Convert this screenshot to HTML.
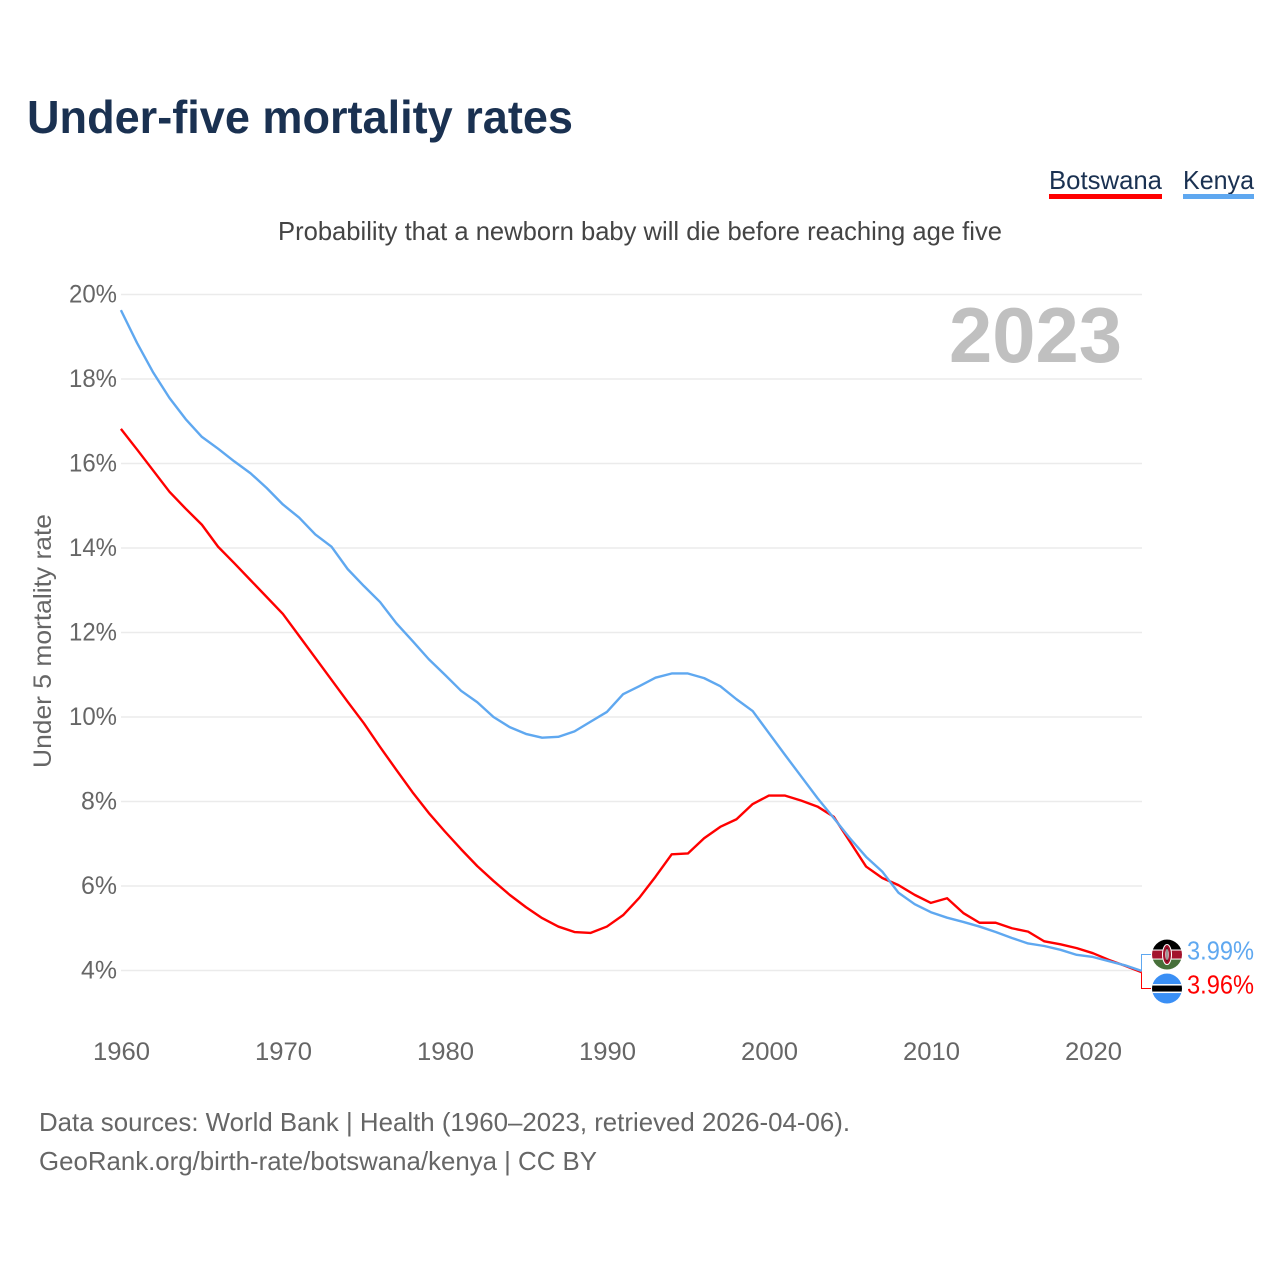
<!DOCTYPE html>
<html lang="en">
<head>
<meta charset="utf-8">
<title>Under-five mortality rates</title>
<style>
html,body{margin:0;padding:0;background:#fff;}
svg{display:block;font-family:"Liberation Sans",sans-serif;}
</style>
</head>
<body>
<svg id="chart" xmlns="http://www.w3.org/2000/svg" width="1280" height="1280" viewBox="0 0 1280 1280">
<defs>
<clipPath id="clip-top"><circle cx="0" cy="0" r="15"/></clipPath>
</defs>
<rect width="1280" height="1280" fill="#fff"/>
<text x="27" y="133" font-size="46" font-weight="700" fill="#1a3151" textLength="546" lengthAdjust="spacingAndGlyphs">Under-five mortality rates</text>
<g>
<text x="1049" y="189" font-size="26" fill="#1a3151" textLength="113" lengthAdjust="spacingAndGlyphs">Botswana</text>
<rect x="1049" y="194" width="113" height="5" fill="#ff0000"/>
</g>
<g>
<text x="1183" y="189" font-size="26" fill="#1a3151" textLength="71" lengthAdjust="spacingAndGlyphs">Kenya</text>
<rect x="1183" y="194" width="71" height="5" fill="#5fa8f0"/>
</g>
<text x="278" y="240" font-size="26" fill="#444" textLength="724" lengthAdjust="spacingAndGlyphs">Probability that a newborn baby will die before reaching age five</text>
<text transform="translate(51,768) rotate(-90)" font-size="25" fill="#666" textLength="254" lengthAdjust="spacingAndGlyphs">Under 5 mortality rate</text>
<g id="grid"></g>
<g id="y-ticks"></g>
<g id="x-ticks"></g>
<text x="949" y="362" font-size="78" font-weight="700" fill="#c0c0c0" textLength="173" lengthAdjust="spacingAndGlyphs">2023</text>
<g id="series"></g>
<g id="end-labels"></g>
<text x="39" y="1131" font-size="26" fill="#666" textLength="811" lengthAdjust="spacingAndGlyphs">Data sources: World Bank | Health (1960–2023, retrieved 2026-04-06).</text>
<text x="39" y="1170" font-size="26" fill="#666" textLength="558" lengthAdjust="spacingAndGlyphs">GeoRank.org/birth-rate/botswana/kenya | CC BY</text>
</svg>
<script>
const firstYear = 1960;
const yTickValues = [4, 6, 8, 10, 12, 14, 16, 18, 20];
const xTickYears = [1960, 1970, 1980, 1990, 2000, 2010, 2020];
const botswanaValues = [16.82,16.33,15.83,15.33,14.93,14.55,14.03,13.64,13.24,12.84,12.44,11.92,11.4,10.88,10.36,9.85,9.29,8.75,8.22,7.73,7.29,6.87,6.47,6.12,5.79,5.5,5.24,5.04,4.91,4.89,5.04,5.31,5.72,6.22,6.75,6.77,7.13,7.4,7.58,7.94,8.14,8.14,8.02,7.88,7.64,7.05,6.46,6.19,6.02,5.79,5.6,5.71,5.36,5.13,5.13,5.0,4.92,4.69,4.62,4.53,4.41,4.25,4.11,3.96];
const kenyaValues = [19.63,18.85,18.15,17.55,17.05,16.63,16.35,16.05,15.77,15.42,15.03,14.72,14.32,14.03,13.5,13.1,12.72,12.22,11.8,11.37,11.0,10.62,10.35,10.0,9.76,9.6,9.51,9.53,9.66,9.89,10.12,10.54,10.73,10.93,11.03,11.03,10.92,10.73,10.42,10.14,9.62,9.1,8.59,8.08,7.61,7.13,6.69,6.34,5.84,5.57,5.38,5.25,5.15,5.04,4.91,4.77,4.64,4.58,4.49,4.37,4.32,4.22,4.12,3.99];

const NS = 'http://www.w3.org/2000/svg';
const xScale = function (year) { return 120.9 + (year - 1960) * 16.2; };
const yScale = function (value) { return 970.5 - (value - 4) * 42.25; };
const RED = '#ff0000';
const BLUE = '#5fa8f0';

function make(tag, attrs, parent) {
  const el = document.createElementNS(NS, tag);
  for (const k in attrs) el.setAttribute(k, attrs[k]);
  parent.appendChild(el);
  return el;
}

const gridGroup = document.getElementById('grid');
const yTickGroup = document.getElementById('y-ticks');
yTickValues.forEach(function (v) {
  const line = make('line', {x1: 121, x2: 1142, y1: yScale(v), y2: yScale(v), stroke: '#ebebeb', 'stroke-width': 1.5}, gridGroup);
  
  
  const label = make('text', {x: 117, y: yScale(v) + 8, 'text-anchor': 'end', 'font-size': 25, fill: '#666', textLength: v < 10 ? 36 : 48, lengthAdjust: 'spacingAndGlyphs'}, yTickGroup);
  
  
  label.textContent = v + '%';
});

const xTickGroup = document.getElementById('x-ticks');
xTickYears.forEach(function (year) {
  const label = make('text', {x: xScale(year) - 27.9, y: 1060, 'font-size': 25, fill: '#666', textLength: 57, lengthAdjust: 'spacingAndGlyphs'}, xTickGroup);
  
  
  label.textContent = String(year);
});

function linePoints(values) {
  return values.map(function (v, i) {
    return xScale(firstYear + i).toFixed(2) + ',' + yScale(v).toFixed(2);
  }).join(' ');
}

const seriesGroup = document.getElementById('series');
const botswanaLine = make('polyline', {points: linePoints(botswanaValues), fill: 'none', stroke: RED, 'stroke-width': 2.4, 'stroke-linejoin': 'round'}, seriesGroup);


const kenyaLine = make('polyline', {points: linePoints(kenyaValues), fill: 'none', stroke: BLUE, 'stroke-width': 2.4, 'stroke-linejoin': 'round'}, seriesGroup);



const endGroup = document.getElementById('end-labels');
const endX = xScale(firstYear + kenyaValues.length - 1);
const kenyaEnd = kenyaValues[kenyaValues.length - 1];
const botswanaEnd = botswanaValues[botswanaValues.length - 1];
const midY = (yScale(kenyaEnd) + yScale(botswanaEnd)) / 2;
const kenyaY = midY - 17;
const botswanaY = midY + 17;

const botswanaLeader = make('polyline', {points: [endX, yScale(botswanaEnd), endX, botswanaY, 1151, botswanaY].join(' '), fill: 'none', stroke: RED, 'stroke-width': 1}, endGroup);


const kenyaLeader = make('polyline', {points: [endX, yScale(kenyaEnd), endX, kenyaY, 1151, kenyaY].join(' '), fill: 'none', stroke: BLUE, 'stroke-width': 1}, endGroup);



const kenyaFlag = make('g', {transform: 'translate(1167,' + kenyaY + ')', 'clip-path': 'url(#clip-top)'}, endGroup);


make('rect', {x: -15, y: -15, width: 30, height: 10, fill: '#000'}, kenyaFlag);
make('rect', {x: -15, y: -5, width: 30, height: 10, fill: '#fff'}, kenyaFlag);
make('rect', {x: -15, y: -4, width: 30, height: 8, fill: '#a3132d'}, kenyaFlag);
make('rect', {x: -15, y: 5, width: 30, height: 10, fill: '#47703a'}, kenyaFlag);
make('ellipse', {cx: 0, cy: 0, rx: 4.5, ry: 10, fill: '#a3132d', stroke: '#fff', 'stroke-width': 1}, kenyaFlag);
make('ellipse', {cx: 0, cy: 0, rx: 1.6, ry: 6, fill: '#fff'}, kenyaFlag);
make('line', {x1: 0, x2: 0, y1: -7, y2: 7, stroke: '#000', 'stroke-width': 0.8}, kenyaFlag);

const botswanaFlag = make('g', {transform: 'translate(1167,' + botswanaY + ')', 'clip-path': 'url(#clip-top)'}, endGroup);


make('rect', {x: -15, y: -15, width: 30, height: 30, fill: '#3a8ff5'}, botswanaFlag);
make('rect', {x: -15, y: -4.5, width: 30, height: 9, fill: '#fff'}, botswanaFlag);
make('rect', {x: -15, y: -3, width: 30, height: 6, fill: '#000'}, botswanaFlag);

const kenyaLabel = make('text', {x: 1187, y: kenyaY + 5, 'font-size': 26, fill: BLUE, textLength: 67, lengthAdjust: 'spacingAndGlyphs'}, endGroup);


kenyaLabel.textContent = kenyaEnd.toFixed(2) + '%';
const botswanaLabel = make('text', {x: 1187, y: botswanaY + 5, 'font-size': 26, fill: RED, textLength: 67, lengthAdjust: 'spacingAndGlyphs'}, endGroup);


botswanaLabel.textContent = botswanaEnd.toFixed(2) + '%';
</script>
</body>
</html>
